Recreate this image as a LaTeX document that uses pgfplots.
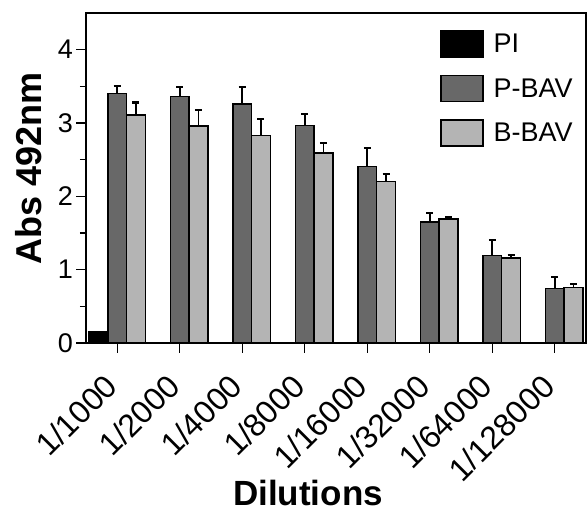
\documentclass[border=0pt]{standalone}
\usepackage{fontspec}
\setmainfont{Liberation Sans}
\usepackage{pgfplots}
\pgfplotsset{compat=1.18}
\definecolor{pbav}{HTML}{686868}
\definecolor{bbav}{HTML}{B4B4B4}
\pgfplotsset{
  myerr/.style={error bars/.cd, y dir=plus, y explicit,
    error bar style={line width=1.8pt, black},
    error mark options={rotate=90, mark size=3.5pt, line width=2.2pt, black}},
}
\begin{document}
\begin{tikzpicture}
\begin{axis}[
  scale only axis, width=500pt, height=330pt,
  xmin=-0.5, xmax=7.5, ymin=0, ymax=4.5,
  ybar=0pt, bar width=0.3,
  axis line style={line width=1.6pt},
  xtick={0,...,7},
  xticklabels={1/1000,1/2000,1/4000,1/8000,1/16000,1/32000,1/64000,1/128000},
  ytick={0,1,2,3,4}, minor ytick={0.5,1.5,2.5,3.5},
  tick align=outside, xtick pos=bottom, ytick pos=left,
  major tick length=9.5pt, minor tick length=6pt,
  tick style={line width=1.4pt, black},
  /pgf/number format/assume math mode=true,
  yticklabel style={font=\fontsize{27}{27}\selectfont},
  xticklabel style={font=\fontsize{32}{32}\selectfont, inner sep=0pt, xshift=-6pt, yshift=-28pt, rotate=45, anchor=east},
  xlabel={Dilutions},
  xlabel style={at={(axis description cs:0.444,-0.456)}, anchor=center, font=\fontsize{35}{35}\selectfont\bfseries},
  ylabel={Abs 492nm},
  ylabel style={at={(axis description cs:-0.114,0.53)}, anchor=center, font=\fontsize{36}{36}\selectfont\bfseries},
  legend style={draw=none, fill=none, at={(axis description cs:0.708,0.948)}, anchor=north west,
    font=\fontsize{27}{27}\selectfont, inner sep=0pt, row sep=17pt, column sep=8pt, cells={anchor=west}},
  legend image code/.code={\draw[#1] (0pt,-13pt) rectangle (42pt,13pt);},
]
\addplot[fill=black, draw=black, line width=1.4pt] coordinates {(0,0.15)};
\addplot[fill=pbav, draw=black, line width=1.4pt, myerr] coordinates {
  (0,3.40) +- (0,0.10)
  (1,3.36) +- (0,0.13)
  (2,3.26) +- (0,0.23)
  (3,2.97) +- (0,0.15)
  (4,2.41) +- (0,0.25)
  (5,1.65) +- (0,0.12)
  (6,1.19) +- (0,0.21)
  (7,0.74) +- (0,0.16)
};
\addplot[fill=bbav, draw=black, line width=1.4pt, myerr] coordinates {
  (0,3.11) +- (0,0.17)
  (1,2.96) +- (0,0.22)
  (2,2.83) +- (0,0.23)
  (3,2.59) +- (0,0.14)
  (4,2.20) +- (0,0.10)
  (5,1.69) +- (0,0.03)
  (6,1.16) +- (0,0.04)
  (7,0.76) +- (0,0.04)
};
\legend{PI, P-BAV, B-BAV}
\end{axis}
\pgfresetboundingbox
\path[use as bounding box] (-86pt,-171pt) rectangle (501pt,343pt);
\end{tikzpicture}
\end{document}
